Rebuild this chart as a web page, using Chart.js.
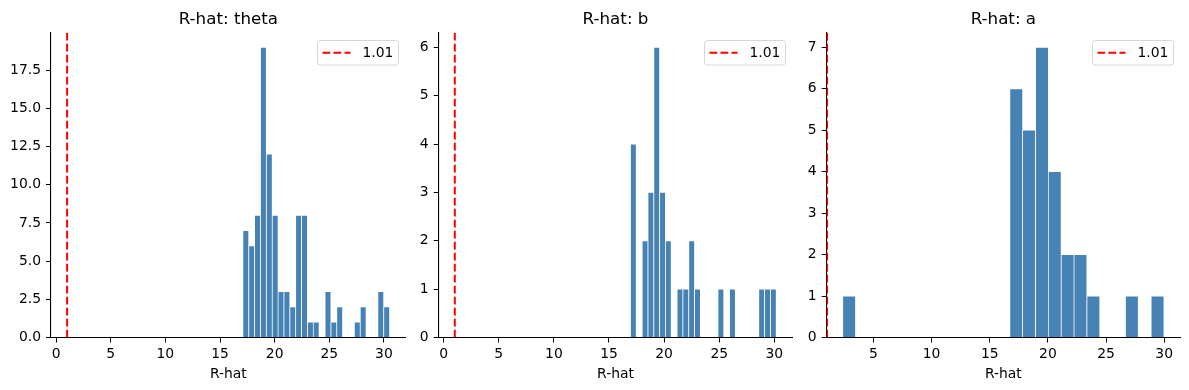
<!DOCTYPE html>
<html>
<head>
<meta charset="utf-8">
<script src="https://cdn.jsdelivr.net/npm/chart.js@4.4.1/dist/chart.umd.min.js"></script>
<style>
body { margin: 0; background: #fff; }
#wrap { position: relative; width: 1189px; height: 390px; }
canvas { position: absolute; top: 0; }
</style>
</head>
<body>
<div id="wrap">
  <canvas id="c1" width="412" height="390" style="left:0px"></canvas>
  <canvas id="c2" width="388" height="390" style="left:412px"></canvas>
  <canvas id="c3" width="389" height="390" style="left:800px"></canvas>
</div>
<script>
// threshold line
var rhatLine = 1.01;

// theta: bin centers + counts
var thetaBins = [17.36, 17.90, 18.43, 18.97, 19.51, 20.05, 20.58, 21.12, 21.66, 22.19, 22.73, 23.27, 23.80,
                 24.34, 24.88, 25.42, 25.95, 26.49, 27.03, 27.56, 28.10, 28.64, 29.17, 29.71, 30.25];
var thetaCounts = [7, 6, 8, 19, 12, 8, 3, 3, 2, 8, 8, 1, 1, 0, 3, 1, 2, 0, 0, 1, 2, 0, 0, 3, 2];

// b
var bBins = [17.21, 17.74, 18.27, 18.80, 19.33, 19.86, 20.38, 20.91, 21.44, 21.97, 22.50, 23.03, 23.56,
             24.09, 24.62, 25.15, 25.67, 26.20, 26.73, 27.26, 27.79, 28.32, 28.85, 29.38, 29.91];
var bCounts = [4, 0, 2, 3, 6, 3, 2, 0, 1, 1, 2, 1, 0, 0, 0, 1, 0, 1, 0, 0, 0, 0, 1, 1, 1];

// a
var aBins = [2.91, 4.02, 5.12, 6.23, 7.33, 8.44, 9.54, 10.65, 11.75, 12.86, 13.96, 15.07, 16.17,
             17.28, 18.38, 19.49, 20.59, 21.70, 22.80, 23.91, 25.01, 26.12, 27.22, 28.33, 29.43];
var aCounts = [1, 0, 0, 0, 0, 0, 0, 0, 0, 0, 0, 0, 0, 6, 5, 7, 4, 2, 2, 1, 0, 0, 1, 0, 1];

// ticks
var xTicksFull = [0, 5, 10, 15, 20, 25, 30];
var xTicksA = [5, 10, 15, 20, 25, 30];
var yTicksTheta = [0, 2.5, 5, 7.5, 10, 12.5, 15, 17.5];
var yLabelsTheta = ['0.0', '2.5', '5.0', '7.5', '10.0', '12.5', '15.0', '17.5'];
var yTicksB = [0, 1, 2, 3, 4, 5, 6];
var yTicksA = [0, 1, 2, 3, 4, 5, 6, 7];

// axis limits
var xRangeTheta = [-0.465, 31.99];
var xRangeB = [-0.45, 31.63];
var xRangeA = [0.98, 31.36];
var yTopTheta = 19.95;
var yTopB = 6.3;
var yTopA = 7.35;

Chart.defaults.font.family = '"DejaVu Sans", sans-serif';
Chart.defaults.color = '#000';

var insideLegend = {
    id: 'insideLegend',
    afterDraw: function(chart) {
        var ds = chart.data.datasets[1];
        var a = chart.chartArea;
        var ctx = chart.ctx;
        var w = 81, h = 24.5;
        var x = Math.round(a.right - 7.4 - w), y = Math.round(a.top + 7.4);
        ctx.save();
        ctx.beginPath();
        ctx.roundRect(x + 0.5, y + 0.5, w, h, 3);
        ctx.fillStyle = 'rgba(255,255,255,0.8)';
        ctx.fill();
        ctx.strokeStyle = '#d6d6d6';
        ctx.lineWidth = 1;
        ctx.stroke();
        ctx.beginPath();
        ctx.setLineDash(ds.borderDash);
        ctx.strokeStyle = ds.borderColor;
        ctx.lineWidth = ds.borderWidth;
        ctx.moveTo(x + 5.5, y + h / 2 + 0.5);
        ctx.lineTo(x + 33.5, y + h / 2 + 0.5);
        ctx.stroke();
        ctx.setLineDash([]);
        ctx.fillStyle = '#000';
        ctx.font = '13.9px "DejaVu Sans"';
        ctx.textBaseline = 'middle';
        ctx.fillText(ds.label, x + 45.5, y + h / 2 + 1);
        ctx.restore();
    }
};

function makePanel(id, title, bins, counts, xTicks, yTicks, yLabels, xRange, yTop, yAxisWidth, padRight) {
    var bars = [];
    for (var i = 0; i < bins.length; i++) {
        bars.push({x: bins[i], y: counts[i]});
    }
    var ctx = document.getElementById(id).getContext('2d');
    return new Chart(ctx, {
        type: 'bar',
        data: {
            datasets: [{
                type: 'bar',
                data: bars,
                backgroundColor: 'steelblue',
                borderColor: '#ffffff',
                borderWidth: 0.7,
                barPercentage: 1,
                categoryPercentage: 1
            }, {
                type: 'line',
                label: String(rhatLine),
                data: [{x: rhatLine, y: 0}, {x: rhatLine, y: yTop}],
                borderColor: 'red',
                borderWidth: 2,
                borderDash: [7.7, 3.3],
                pointRadius: 0,
                fill: false
            }]
        },
        options: {
            responsive: false,
            animation: false,
            layout: { padding: { left: 0, right: padRight, top: 0, bottom: 0 } },
            plugins: {
                legend: { display: false },
                tooltip: { enabled: false },
                title: {
                    display: true,
                    text: title,
                    fullSize: false,
                    font: { size: 16.7, weight: 'normal' },
                    color: '#000',
                    padding: { top: 10, bottom: 2.8 }
                }
            },
            scales: {
                x: {
                    type: 'linear',
                    min: xRange[0],
                    max: xRange[1],
                    offset: false,
                    grid: { display: true, drawOnChartArea: false, drawTicks: true, tickLength: 5, tickColor: '#000', offset: false },
                    border: { display: true, color: '#000', width: 1.1 },
                    afterBuildTicks: function(s) { s.ticks = xTicks.map(function(v) { return {value: v}; }); },
                    afterFit: function(s) { s.height = 52.5; },
                    ticks: { font: { size: 13.9 }, color: '#000', padding: 3.5, maxRotation: 0,
                             callback: function(v) { return String(v); } },
                    title: { display: true, text: 'R-hat', font: { size: 13.9 }, color: '#000', padding: { top: 0, bottom: 7 } }
                },
                y: {
                    type: 'linear',
                    min: 0,
                    max: yTop,
                    grid: { display: true, drawOnChartArea: false, drawTicks: true, tickLength: 5, tickColor: '#000' },
                    border: { display: true, color: '#000', width: 1.1 },
                    afterBuildTicks: function(s) { s.ticks = yTicks.map(function(v) { return {value: v}; }); },
                    afterFit: function(s) { s.width = yAxisWidth; },
                    ticks: { font: { size: 13.9 }, color: '#000', padding: 5,
                             callback: function(v, i) { return yLabels ? yLabels[i] : String(v); } }
                }
            }
        },
        plugins: [insideLegend]
    });
}

makePanel('c1', 'R-hat: theta', thetaBins, thetaCounts, xTicksFull, yTicksTheta, yLabelsTheta, xRangeTheta, yTopTheta, 51, 6.3);
makePanel('c2', 'R-hat: b', bBins, bCounts, xTicksFull, yTicksB, null, xRangeB, yTopB, 26.7, 7.7);
makePanel('c3', 'R-hat: a', aBins, aCounts, xTicksA, yTicksA, null, xRangeA, yTopA, 26.7, 9);
</script>
</body>
</html>
